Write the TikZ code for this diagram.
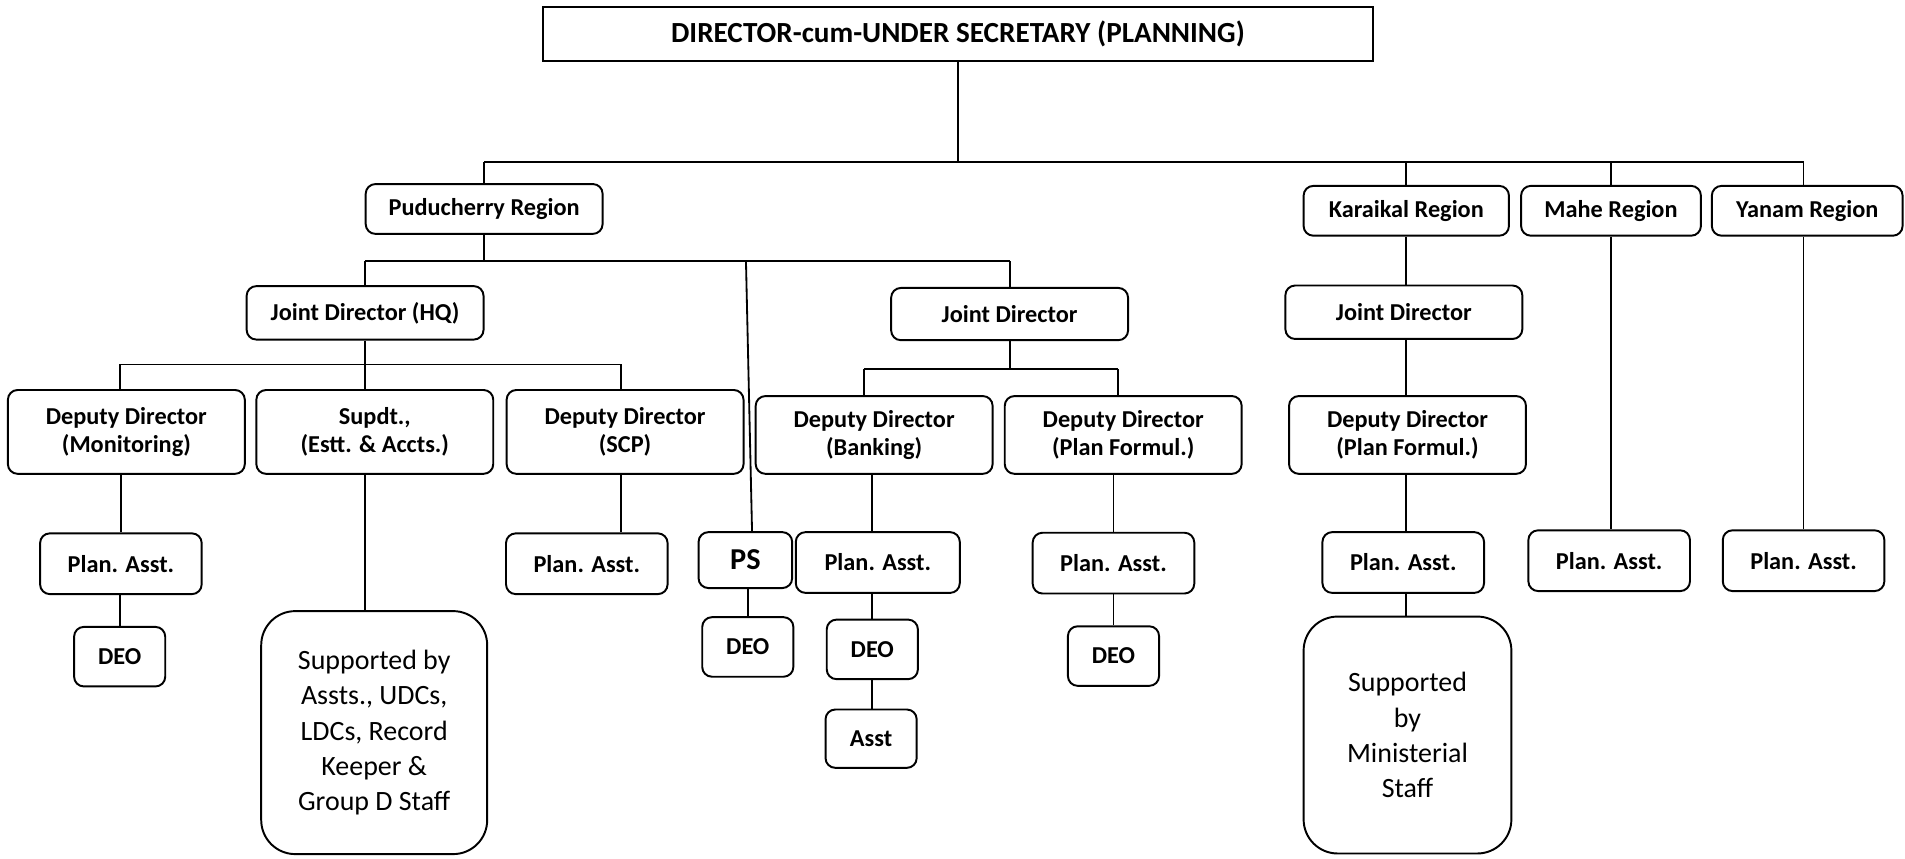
\documentclass[tikz,border=0pt]{standalone}
\usepackage{fontspec}
\setmainfont{Carlito}

\begin{document}
\begin{tikzpicture}[x=0.5pt,y=-0.5pt,
  box/.style={draw,rounded corners=4pt,line width=0.8pt,align=center,inner sep=0pt,
    font=\fontsize{10}{11.5}\selectfont\bfseries},
  region/.style={box,minimum height=20.5pt},
  jd/.style={box,minimum width=97.5pt,minimum height=22pt},
  dd/.style={box,minimum width=97.5pt,minimum height=34.5pt},
  pa/.style={box,minimum width=66.5pt,minimum height=25pt},
  deo/.style={box,minimum width=37.5pt,minimum height=24.5pt},
  support/.style={draw,rounded corners=14pt,line width=0.8pt,align=center,inner sep=0pt,
    font=\fontsize{11.5}{14.5}\selectfont},
  link/.style={line width=0.75pt}]
\useasboundingbox (0,0) rectangle (1568,707);

% head
\node[draw,line width=0.8pt,minimum width=341.5pt,minimum height=22pt,
  font=\fontsize{12}{14}\selectfont\bfseries] (top) at (788.5,28) {DIRECTOR-cum-UNDER SECRETARY (PLANNING)};

% regions
\node[region,minimum width=97.5pt] (pr) at (398.5,172) {Puducherry Region};
\node[region,minimum width=84.5pt] (kr) at (1157.5,173.5) {Karaikal Region};
\node[region,minimum width=74pt] (mr) at (1326,173.5) {Mahe Region};
\node[region,minimum width=78.5pt] (yr) at (1487.5,173.5) {Yanam Region};

% joint directors
\node[jd] (jdhq) at (300.5,257.5) {Joint Director (HQ)};
\node[jd,minimum height=21.5pt] (jdp) at (831,258.5) {Joint Director};
\node[jd] (jdk) at (1155.5,257) {Joint Director};

% deputy directors
\node[dd] (ddm) at (104,355.5) {Deputy Director\\(Monitoring)};
\node[dd] (sup) at (308.5,355.5) {Supdt.,\\(Estt. \& Accts.)};
\node[dd] (dds) at (514.5,355.5) {Deputy Director\\(SCP)};
\node[dd,minimum height=32pt] (ddb) at (719.5,358) {Deputy Director\\(Banking)};
\node[dd,minimum height=32pt] (ddp) at (924.5,358) {Deputy Director\\(Plan Formul.)};
\node[dd,minimum height=32pt] (ddk) at (1158.5,358) {Deputy Director\\(Plan Formul.)};

% staff
\node[pa] (pam) at (99.5,464) {Plan. Asst.};
\node[deo] (deom) at (98.5,540.5) {DEO};
\node[support,minimum width=93pt,minimum height=100pt] (supa) at (308,603)
  {Supported by\\Assts., UDCs,\\LDCs, Record\\Keeper \&\\Group D Staff};
\node[pa] (pas) at (483,464) {Plan. Asst.};
\node[box,minimum width=38.5pt,minimum height=23pt,font=\fontsize{12.5}{14}\selectfont\bfseries] (ps) at (613.5,461) {PS};
\node[deo] (deops) at (615.5,532.5) {DEO};
\node[pa,minimum width=67.5pt] (pab) at (722.5,463) {Plan. Asst.};
\node[deo] (deob) at (718,534.5) {DEO};
\node[deo,minimum height=24pt] (asst) at (717,608) {Asst};
\node[pa] (pap) at (916.5,463.5) {Plan. Asst.};
\node[deo] (deop) at (916.5,540) {DEO};
\node[pa] (pak) at (1155,463) {Plan. Asst.};
\node[support,minimum width=85.5pt,minimum height=97.5pt] (supk) at (1158.5,605)
  {Supported\\by\\Ministerial\\Staff};
\node[pa] (pamh) at (1324.5,461.5) {Plan. Asst.};
\node[pa] (pay) at (1484.5,461.5) {Plan. Asst.};

% head to regions
\coordinate (b1) at (789,133);
\draw[link] (top.south) -- (top.south |- b1);
\draw[link] (pr.north |- b1) -- (pay.north |- b1);
\draw[link] (pr.north |- b1) -- (pr.north);
\draw[link] (kr.north |- b1) -- (kr.north);
\draw[link] (mr.north |- b1) -- (mr.north);
\draw[link] (pay.north |- b1) -- (pay.north |- yr.north);

% puducherry
\coordinate (b2) at (401,215);
\draw[link] (pr.south) -- (pr.south |- b2);
\draw[link] (jdhq.north |- b2) -- (jdp.north |- b2);
\draw[link] (jdhq.north |- b2) -- (jdhq.north);
\draw[link] (jdp.north |- b2) -- (jdp.north);
\coordinate (psb) at (614,215);
\draw[link] (psb) -- ([xshift=2.75pt]ps.north);

\coordinate (b3l) at (99,300);
\coordinate (b3r) at (511,300);
\draw[link] (jdhq.south) -- (jdhq.south |- sup.north);
\draw[link] (b3l) -- (b3r);
\draw[link] (b3l) -- (b3l |- ddm.north);
\draw[link] (b3r) -- (b3r |- dds.north);

\coordinate (b4l) at (711,304);
\coordinate (b4r) at (920,304);
\draw[link] (jdp.south) -- (jdp.south |- b4l);
\draw[link] (b4l) -- (b4r);
\draw[link] (b4l) -- (b4l |- ddb.north);
\draw[link] (b4r) -- (b4r |- ddp.north);

\draw[link] (pam.north |- ddm.south) -- (pam.north);
\draw[link] (deom.north |- pam.south) -- (deom.north);
\draw[link] (jdhq.south |- sup.south) -- (jdhq.south |- supa.north);
\draw[link] (b3r |- dds.south) -- (b3r |- pas.north);
\draw[link] (deops.north |- ps.south) -- (deops.north);
\draw[link] (deob.north |- ddb.south) -- (deob.north |- pab.north);
\draw[link] (deob.north |- pab.south) -- (deob.north);
\draw[link] (deob.south) -- (deob.south |- asst.north);
\draw[link] (pap.north |- ddp.south) -- (pap.north);
\draw[link] (pap.south) -- (pap.south |- deop.north);

% karaikal, mahe, yanam
\draw[link] (kr.south) -- (kr.south |- jdk.north);
\draw[link] (kr.south |- jdk.south) -- (kr.south |- ddk.north);
\draw[link] (kr.south |- ddk.south) -- (kr.south |- pak.north);
\draw[link] (kr.south |- pak.south) -- (kr.south |- supk.north);
\draw[link] (mr.south) -- (mr.south |- pamh.north);
\draw[link] (pay.north |- yr.south) -- (pay.north);
\end{tikzpicture}
\end{document}
